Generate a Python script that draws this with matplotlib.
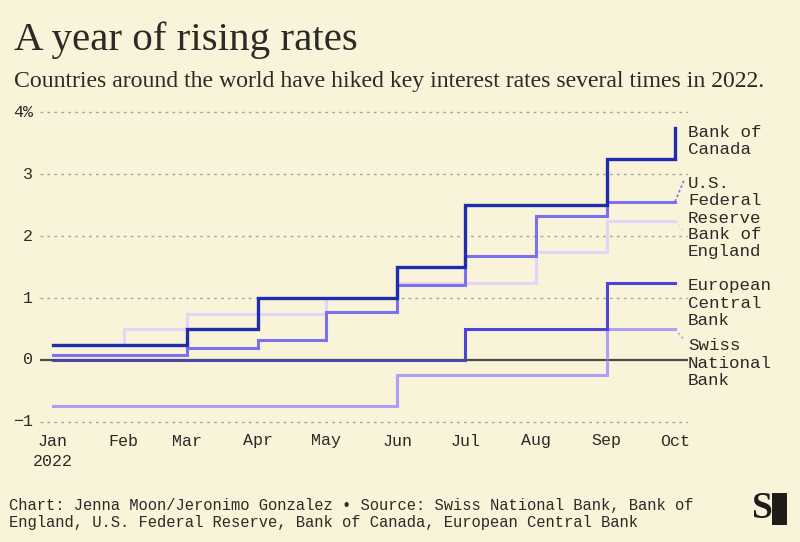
import matplotlib
matplotlib.use("Agg")
import matplotlib.pyplot as plt
import numpy as np
from matplotlib.patches import Rectangle

# ---- data ----
months = ["Jan", "Feb", "Mar", "Apr", "May", "Jun", "Jul", "Aug", "Sep", "Oct"]
month_days = [0, 31, 59, 90, 120, 151, 181, 212, 243, 273]  # day of year 2022 (Jan 1 = 0)
bank_of_canada = [0.25, 0.25, 0.50, 1.00, 1.00, 1.50, 2.50, 2.50, 3.25, 3.75]
us_fed = [0.08, 0.08, 0.20, 0.33, 0.77, 1.21, 1.68, 2.33, 2.56, 2.56]
bank_of_england = [0.25, 0.50, 0.75, 0.75, 1.00, 1.25, 1.25, 1.75, 2.25, 2.25]
ecb = [0.00, 0.00, 0.00, 0.00, 0.00, 0.00, 0.50, 0.50, 1.25, 1.25]
swiss = [-0.75, -0.75, -0.75, -0.75, -0.75, -0.25, -0.25, -0.25, 0.50, 0.50]
y_ticks = [-1, 0, 1, 2, 3, 4]
y_tick_labels = ["\u22121", "0", "1", "2", "3", "4%"]

BG = "#f8f3d9"
MONO = ["Liberation Mono", "DejaVu Sans Mono"]
SERIF = ["Liberation Serif", "DejaVu Serif"]
TXT = "#2b2a26"

fig = plt.figure(figsize=(8.0, 5.42), dpi=100, facecolor=BG)

W, H = 800, 542
px_day = (675 - 53) / 273.0
px_unit = 61.9
x_left_px, x_right_px = 40, 688
y_top_px, y_bot_px = 100, 440.5
ax = fig.add_axes([x_left_px / W, 1 - y_bot_px / H, (x_right_px - x_left_px) / W, (y_bot_px - y_top_px) / H])
ax.set_facecolor(BG)
ax.set_xlim((x_left_px - 53) / px_day, (x_right_px - 53) / px_day)
ax.set_ylim((360 - y_bot_px) / px_unit, (360 - y_top_px) / px_unit)
for s in ax.spines.values():
    s.set_visible(False)
ax.set_xticks([])
ax.set_yticks([])

# grid lines
for yv in y_ticks:
    if yv == 0:
        continue
    ax.axhline(yv, color="#a9a59a", lw=1.0, ls=(0, (2, 3)), zorder=1)

x_end = ax.get_xlim()[1]
ax.plot([ax.get_xlim()[0], (687 - 53) / px_day], [0, 0], color="#4d4a42", lw=1.6, zorder=2)

series = [
    (bank_of_england, "#e6d3fb", 2.2, "Bank of\nEngland"),
    (swiss, "#ada1f7", 2.2, "Swiss\nNational\nBank"),
    (us_fed, "#7b70f0", 2.2, "U.S.\nFederal\nReserve"),
    (ecb, "#4b44d6", 2.2, "European\nCentral\nBank"),
    (bank_of_canada, "#1e2cad", 2.4, "Bank of\nCanada"),
]
for vals, col, lw, _ in series:
    ax.step(month_days, vals, where="post", color=col, lw=lw, zorder=3, solid_joinstyle="miter")

# zero line overlay (slightly transparent)
ax.plot([ax.get_xlim()[0], (687 - 53) / px_day], [0, 0], color="#4d4a42", lw=1.4, alpha=0.55, zorder=4)

# right-hand labels
label_y = {
    "Bank of\nCanada": 3.54,
    "U.S.\nFederal\nReserve": 2.57,
    "Bank of\nEngland": 1.89,
    "European\nCentral\nBank": 0.92,
    "Swiss\nNational\nBank": -0.05,
}
for vals, col, lw, name in series:
    ax.text(x_end, label_y[name], name, family=MONO, fontsize=12.6, color=TXT,
            va="center", ha="left", linespacing=1.18, clip_on=False)

# leader lines
lx0 = month_days[-1]
lx1 = (684 - 53) / px_day
ax.plot([lx0, lx1], [us_fed[-1], 2.90], color="#7b70f0", lw=1.2, ls=(0, (1.5, 1.5)), clip_on=False)
ax.plot([lx0, lx1], [bank_of_england[-1], 2.07], color="#e6d3fb", lw=1.2, ls=(0, (1.5, 1.5)), clip_on=False)
ax.plot([lx0, lx1], [swiss[-1], 0.33], color="#ada1f7", lw=1.2, ls=(0, (1.5, 1.5)), clip_on=False)

# y tick labels
ylab_x = (33 - 53) / px_day
for yv, lab in zip(y_ticks, y_tick_labels):
    ax.text(ylab_x, yv, lab, family=MONO, fontsize=12, color=TXT, ha="right", va="center", clip_on=False)

# x tick labels
for d, m in zip(month_days, months):
    ax.text(d, (360 - 441) / px_unit, m, family=MONO, fontsize=12, color=TXT, ha="center", va="center", clip_on=False)
ax.text(month_days[0], (360 - 462) / px_unit, "2022", family=MONO, fontsize=12, color=TXT, ha="center", va="center", clip_on=False)

# title & subtitle
fig.text(14 / W, 1 - 40 / H, "A year of rising rates", family=SERIF, fontsize=29.5, color=TXT, ha="left", va="center")
fig.text(14 / W, 1 - 81 / H, "Countries around the world have hiked key interest rates several times in 2022.",
         family=SERIF, fontsize=17.1, color=TXT, ha="left", va="center")

# footer
fig.text(9 / W, 1 - 514 / H,
         "Chart: Jenna Moon/Jeronimo Gonzalez \u2022 Source: Swiss National Bank, Bank of\nEngland, U.S. Federal Reserve, Bank of Canada, European Central Bank",
         family=MONO, fontsize=11.2, color=TXT, ha="left", va="center", linespacing=1.2)

# logo
fig.patches.append(Rectangle((772 / W, 1 - 525 / H), 15 / W, 32 / H, transform=fig.transFigure,
                             facecolor="#1f1d19", edgecolor="none"))
fig.text(762 / W, 1 - 509 / H, "S", family=SERIF, fontsize=27, fontweight="bold", color="#1f1d19",
         ha="center", va="center")

fig.savefig("out.png", dpi=100, facecolor=BG)
